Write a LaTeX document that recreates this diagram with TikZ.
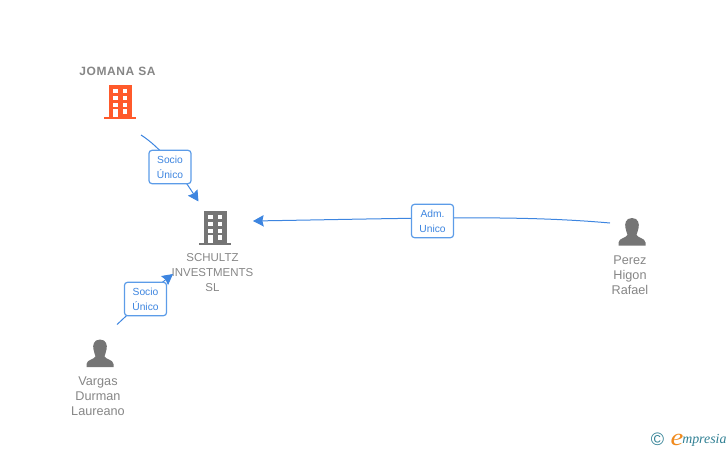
\documentclass[tikz,border=0pt]{standalone}
\usepackage{fontspec}
\setmainfont{Liberation Sans}
\newfontfamily\logofont{Liberation Serif}
\usetikzlibrary{arrows.meta}
\definecolor{linkblue}{HTML}{3D85E0}
\definecolor{boxblue}{HTML}{5C9CE8}
\definecolor{namegrey}{HTML}{868686}
\definecolor{icongrey}{HTML}{757575}
\definecolor{iconorange}{HTML}{FF5A2B}
\definecolor{logoteal}{HTML}{2F7F93}
\definecolor{logoorange}{HTML}{F08A1D}
\tikzset{
  name label/.style={text=namegrey,font=\fontsize{8.6pt}{11.25pt}\selectfont,align=center,inner sep=0pt},
  person label/.style={name label,font=\fontsize{9.5pt}{11.25pt}\selectfont},
  link label/.style={draw=boxblue,line width=0.9pt,rounded corners=2.2pt,fill=white,text=linkblue,
    font=\fontsize{7.7pt}{11.25pt}\selectfont,align=center,inner sep=0pt,
    minimum width=31.5pt,minimum height=25pt},
  link/.style={draw=linkblue,line width=0.75pt,-{Stealth[length=8pt,width=8.5pt,inset=1pt]}},
  building/.pic={
    \fill[pic actions] (-11.5,-17) rectangle (11.5,15);
    \fill[pic actions] (-16,15) rectangle (16,17);
    \foreach \yy in {-13,-6,0.5}{
      \fill[white] (-7,\yy) rectangle (-2.5,\yy+4);
      \fill[white] (2.5,\yy) rectangle (7,\yy+4);
    }
    \fill[white] (-7,7) rectangle (-2.5,15);
    \fill[white] (2.5,7) rectangle (7,11.5);
  },
  person/.pic={
    \fill[pic actions] (0,-14) .. controls (-6.5,-14) and (-7.5,-8) .. (-6.5,-4)
      .. controls (-6,-1) and (-5,1) .. (-4.5,3)
      .. controls (-6,6) and (-13,6) .. (-13.5,10.5) -- (-13.5,13.5) -- (13.5,13.5) -- (13.5,10.5)
      .. controls (13,6) and (6,6) .. (4.5,3)
      .. controls (5,1) and (6,-1) .. (6.5,-4)
      .. controls (7.5,-8) and (6.5,-14) .. (0,-14) -- cycle;
  }
}
\begin{document}
\begin{tikzpicture}[x=0.75pt,y=-0.75pt]
\useasboundingbox (0,0) rectangle (728,450);
% icons
\pic[fill=iconorange] at (120,102) {building};
\pic[fill=icongrey] at (215,228) {building};
\pic[fill=icongrey] at (100,353.5) {person};
\pic[fill=icongrey] at (632,232) {person};
% names
\node[name label,font=\bfseries\fontsize{9pt}{11.25pt}\selectfont\addfontfeature{LetterSpace=5}] (jomana) at (117.5,71) {JOMANA SA};
\node[name label] (schultz) at (212.5,272.5) {SCHULTZ\\INVESTMENTS\\SL};
\node[person label] (vargas) at (98,396.5) {Vargas\\Durman\\Laureano};
\node[person label] (perez) at (630,275.5) {Perez\\Higon\\Rafael};
% connector ends
\coordinate (jomanaout) at (141,135);
\coordinate (schultztop) at (198.5,201.5);
\coordinate (vargasout) at (117,324.5);
\coordinate (schultzleft) at (173,274);
\coordinate (perezout) at (610,223);
\coordinate (schultzright) at (253,221);
% connectors
\draw[link] (jomanaout) .. controls (160,147) and (178,170) .. (schultztop);
\draw[link] (vargasout) .. controls (135,308) and (155,288) .. (schultzleft);
\draw[link] (perezout) .. controls (520,215) and (430,218) .. (schultzright);
% labels on connectors
\node[link label] (socio1) at (170,167) {Socio\\Único};
\node[link label] (socio2) at (145.5,299) {Socio\\Único};
\node[link label] (adm) at (432.5,221) {Adm.\\Unico};
% logo
\node[inner sep=0pt,text=logoteal,font=\fontsize{13.5pt}{13.5pt}\selectfont] (copy) at (657.5,439) {©};
\node[inner sep=0pt,text=logoorange,xscale=1.2,font=\logofont\itshape\fontsize{18pt}{18pt}\selectfont] (logoe) at (677,440) {e};
\node[inner sep=0pt,text=logoteal,font=\logofont\itshape\fontsize{10.4pt}{10pt}\selectfont,anchor=base west] (logotext) at (682,443) {mpresia};
\end{tikzpicture}
\end{document}
